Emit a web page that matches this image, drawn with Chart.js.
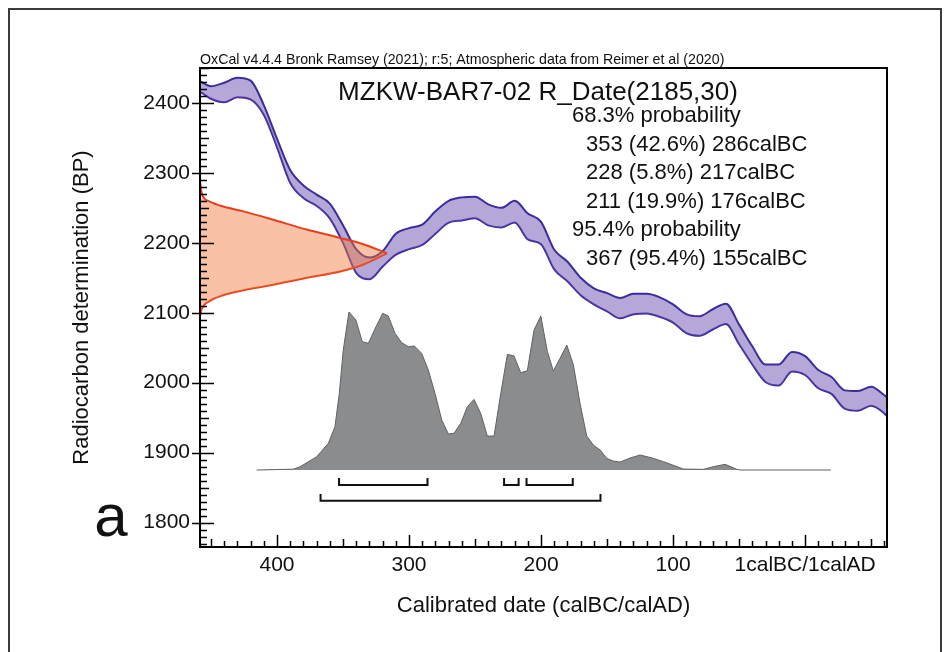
<!DOCTYPE html>
<html><head><meta charset="utf-8">
<script src="https://cdn.jsdelivr.net/npm/chart.js@4.4.0/dist/chart.umd.min.js"></script>
<style>
html,body{margin:0;padding:0;background:#fff;}
#wrap{position:relative;width:946px;height:652px;overflow:hidden;background:#fff;}
#frame{position:absolute;left:8px;top:8px;width:930px;height:700px;border:2px solid #3a3a3a;}
#c{position:absolute;left:0;top:0;}
</style></head><body>
<div id="wrap"><div id="frame"></div><canvas id="c" width="946" height="652"></canvas></div>
<script>
// ---------- data ----------
const headerText = 'OxCal v4.4.4 Bronk Ramsey (2021); r:5; Atmospheric data from Reimer et al (2020)';
const titleText = 'MZKW-BAR7-02 R_Date(2185,30)';
const summaryText = ['68.3% probability','353 (42.6%) 286calBC','228 (5.8%) 217calBC','211 (19.9%) 176calBC','95.4% probability','367 (95.4%) 155calBC'];
const panelLetter = 'a';

const xTickValues = [400, 300, 200, 100, 0];
const yTickValues = [1800, 1900, 2000, 2100, 2200, 2300, 2400];

// calibration curve (years BC; negative = AD), upper and lower edge in BP
const curveYears = [458,450,440,430,420,410,400,390,380,370,360,350,340,330,320,310,300,290,280,270,260,250,240,230,220,210,200,190,180,170,160,150,140,130,120,110,100,90,80,70,60,50,40,30,20,10,0,-10,-20,-30,-40,-50,-60,-62];
const curveUpper = [2431,2424,2429,2436,2432,2397,2349,2304,2282,2269,2256,2225,2191,2179,2188,2213,2221,2226,2245,2260,2265,2266,2255,2250,2260,2242,2230,2190,2173,2150,2135,2128,2121,2127,2127,2122,2112,2098,2095,2105,2113,2083,2052,2026,2026,2044,2038,2018,2008,1989,1988,1994,1982,1979];
const curveLower = [2416,2406,2401,2408,2405,2383,2337,2286,2264,2253,2235,2200,2157,2148,2166,2183,2191,2197,2213,2229,2232,2235,2225,2222,2229,2205,2198,2162,2145,2125,2112,2102,2092,2098,2099,2094,2086,2071,2067,2076,2084,2055,2026,2001,1996,2016,2011,1992,1984,1963,1960,1967,1956,1952];

// radiocarbon date distribution outline (years BC at which the outline sits, BP)
const dateTopYears = [458.3,457.0,450.8,440.7,425.5,402.8,377.5,352.3,334.6,316.7];
const dateTopBP    = [2288,2271,2259,2252,2245,2233,2219,2207,2198,2185];
const dateBotYears = [458.3,457.0,450.8,440.7,428.0,402.8,377.5,352.3,334.6,316.7];
const dateBotBP    = [2095,2105,2117,2125,2131,2140,2150,2159,2169,2185];

// calibrated (posterior) probability, relative
const postYears = [415.4,387.7,382.6,369.9,361.1,356.1,352.8,349.8,345.5,340.2,335.4,330.8,325.0,319.9,315.7,310.6,305.5,300.5,296.0,290.4,285.4,280.3,275.2,270.2,265.9,260.8,255.8,250.8,245.7,240.7,235.6,230.5,225.5,220.5,215.4,210.4,205.3,200.2,195.2,190.7,185.6,180.5,175.5,170.5,165.4,160.4,155.3,150.2,145.5,140.2,132.6,125.0,115.9,107.3,92.2,77.0,69.5,60.6,51.7,49.2,-19.5];
const postProb  = [0,0.005,0.02,0.084,0.169,0.274,0.485,0.759,1.0,0.949,0.812,0.802,0.907,0.992,0.975,0.865,0.806,0.780,0.785,0.738,0.633,0.485,0.316,0.228,0.232,0.296,0.401,0.447,0.359,0.215,0.215,0.485,0.732,0.722,0.616,0.628,0.886,0.975,0.749,0.627,0.707,0.791,0.665,0.422,0.215,0.158,0.127,0.074,0.057,0.05,0.076,0.095,0.076,0.053,0.006,0.004,0.021,0.036,0.004,0,0];

// ranges (from, to) in years BC
const range68 = [[353,286],[228,217],[211,176]];
const range95 = [[367,155]];

// ---------- styles / builders ----------
const FONT = '"Liberation Sans", Arial, Helvetica, sans-serif';
const pts = (xs, ys) => xs.map((x, i) => ({x, y: ys[i]}));
function bracketPoints(ranges, lo, hi) {
  const out = [];
  ranges.forEach(([a, b]) => {
    out.push({x: a, y: hi}, {x: a, y: lo}, {x: b, y: lo}, {x: b, y: hi}, {x: b, y: null});
  });
  return out;
}

const decor = {
  id: 'decor',
  afterDraw(chart) {
    const {ctx, chartArea: a, scales} = chart;
    const xs = scales.x, ys = scales.y;
    ctx.save();
    ctx.strokeStyle = '#000';
    ctx.lineWidth = 2;
    ctx.strokeRect(a.left, a.top, a.right - a.left, a.bottom - a.top);
    ctx.lineWidth = 1.5;
    ctx.beginPath();
    for (let v = Math.ceil(ys.min / 10) * 10; v <= ys.max; v += 10) {
      const p = Math.round(ys.getPixelForValue(v)) + 0.5;
      const major = v % 100 === 0;
      const len = major ? 14 : (v % 50 === 0 ? 9 : 7);
      ctx.moveTo(major ? a.left - 8 : a.left, p);
      ctx.lineTo(a.left + len, p);
    }
    for (let v = Math.ceil(xs.min / 10) * 10; v <= xs.max; v += 10) {
      const p = Math.round(xs.getPixelForValue(v)) + 0.5;
      const len = v % 100 === 0 ? 12 : (v % 50 === 0 ? 8 : 6);
      ctx.moveTo(p, a.bottom);
      ctx.lineTo(p, a.bottom - len);
    }
    ctx.stroke();

    ctx.fillStyle = '#111';
    ctx.textBaseline = 'alphabetic';
    ctx.textAlign = 'left';
    ctx.font = '14.2px ' + FONT;
    ctx.fillText(headerText, a.left, a.top - 4);

    ctx.textAlign = 'center';
    ctx.textBaseline = 'middle';
    ctx.font = '26px ' + FONT;
    ctx.fillText(titleText, 538, 93);

    ctx.textAlign = 'left';
    ctx.font = '22px ' + FONT;
    summaryText.forEach((t, i) => {
      const head = t.indexOf('probability') >= 0;
      ctx.fillText(t, head ? 572 : 586, 116 + i * 28.5);
    });

    ctx.font = '60px ' + FONT;
    ctx.textAlign = 'center';
    ctx.textBaseline = 'alphabetic';
    ctx.fillText(panelLetter, 111, 536);
    ctx.restore();
  }
};

new Chart(document.getElementById('c'), {
  type: 'line',
  data: {
    datasets: [
      {data: pts(dateTopYears, dateTopBP), borderColor: '#e8401c', borderWidth: 2, backgroundColor: 'rgba(242,120,60,0.45)', fill: '+1', cubicInterpolationMode: 'monotone', pointRadius: 0, order: 0},
      {data: pts(dateBotYears, dateBotBP), borderColor: '#e8401c', borderWidth: 2, fill: false, cubicInterpolationMode: 'monotone', pointRadius: 0, order: 0},
      {data: pts(curveYears, curveUpper), borderColor: '#3b2d9c', borderWidth: 2, backgroundColor: 'rgba(110,80,180,0.5)', fill: '+1', cubicInterpolationMode: 'monotone', pointRadius: 0, order: 1},
      {data: pts(curveYears, curveLower), borderColor: '#3b2d9c', borderWidth: 2, fill: false, cubicInterpolationMode: 'monotone', pointRadius: 0, order: 1},
      {data: pts(postYears, postProb), yAxisID: 'yP', borderColor: '#5f6163', borderWidth: 1, backgroundColor: '#8a8c8e', fill: 'origin', tension: 0, pointRadius: 0, order: 2},
      {data: bracketPoints(range68, -0.095, -0.051), yAxisID: 'yP', borderColor: '#111', borderWidth: 2, fill: false, spanGaps: false, tension: 0, pointRadius: 0, order: 0},
      {data: bracketPoints(range95, -0.194, -0.152), yAxisID: 'yP', borderColor: '#111', borderWidth: 2, fill: false, spanGaps: false, tension: 0, pointRadius: 0, order: 0}
    ]
  },
  options: {
    responsive: false,
    animation: false,
    layout: {padding: {left: 0, top: 68, right: 59, bottom: 0}},
    plugins: {legend: {display: false}, tooltip: {enabled: false}, title: {display: false}},
    scales: {
      x: {
        type: 'linear', reverse: true, min: -62, max: 458.3,
        afterBuildTicks: s => { s.ticks = xTickValues.map(v => ({value: v})); },
        afterFit: s => { s.height = 105; },
        grid: {display: true, drawOnChartArea: false, drawTicks: false},
        border: {display: true, color: '#000', width: 2},
        ticks: {color: '#111', padding: 6, maxRotation: 0, autoSkip: false, font: {family: FONT, size: 21},
          callback: v => v === 0 ? '1calBC/1calAD' : String(v)},
        title: {display: true, text: 'Calibrated date (calBC/calAD)', color: '#111', font: {family: FONT, size: 22, lineHeight: 1.2}, padding: {top: 0, bottom: 33}}
      },
      y: {
        type: 'linear', min: 1765, max: 2450,
        afterBuildTicks: s => { s.ticks = yTickValues.map(v => ({value: v})); },
        afterFit: s => { s.width = 200; },
        grid: {display: true, drawOnChartArea: false, drawTicks: false},
        border: {display: true, color: '#000', width: 2},
        ticks: {color: '#111', padding: 10, font: {family: FONT, size: 21}, callback: v => String(v)},
        title: {display: true, text: 'Radiocarbon determination (BP)', color: '#111', font: {family: FONT, size: 22, lineHeight: 1.2}, padding: {top: 69, bottom: 0}}
      },
      yP: {type: 'linear', display: false, min: -0.4873, max: 2.5443}
    }
  },
  plugins: [decor]
});
</script>
</body></html>
